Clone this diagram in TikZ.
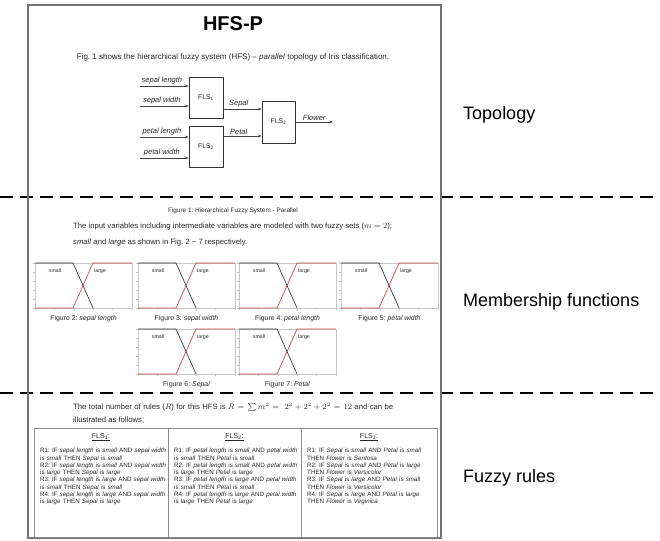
\documentclass[tikz,border=0pt]{standalone}
\usepackage{fontspec}
\setmainfont{Liberation Sans}
\usepackage{amsmath}
\usepackage{xcolor}
\usepackage{tikz}
\usetikzlibrary{positioning,arrows.meta}
\definecolor{mfred}{RGB}{204,72,72}
\definecolor{inkgray}{RGB}{40,40,40}
\newcommand{\fsz}[2]{\fontsize{#1}{#2}\selectfont}
\newcommand{\jline}[1]{\makebox[124pt][s]{#1}}
\frenchspacing

\begin{document}
\begin{tikzpicture}[
    x=1pt, y=-1pt,
    fls/.style = {
        rectangle,
        draw=black!80,
        line width=0.7pt,
        minimum width=34pt,
        minimum height=41pt,
        inner sep=0pt,
        font=\fsz{6.8}{8},
        text=inkgray
    },
    arrow/.style    = {-{Stealth[length=3.6pt,width=2.8pt]}, line width=0.6pt, draw=black!75},
    varlabel/.style = {above, inner sep=1.2pt, font=\fsz{7.5}{9}\itshape, text=inkgray},
    bodytext/.style = {font=\fsz{7.7}{16}, text=inkgray, inner sep=0pt},
    caption/.style  = {font=\fsz{6.9}{8}, text=inkgray, inner sep=0pt},
    mfframe/.style  = {draw=black!22, line width=0.5pt},
    mfsmall/.style  = {line width=0.7pt, draw=black!80},
    mflarge/.style  = {line width=0.7pt, draw=mfred},
    mflabel/.style  = {font=\fsz{5.2}{6}, inner sep=0pt, text=inkgray},
    rules/.style    = {anchor=north west, align=left, text width=130pt, inner sep=0pt, font=\fsz{6.25}{7.3}, text=inkgray},
    rulehead/.style = {font=\fsz{7}{8}, inner sep=0pt, text=inkgray},
    divider/.style  = {line width=2.5pt, dash pattern=on 13pt off 7pt},
    sectionlabel/.style = {anchor=west, inner sep=0pt, font=\fsz{18}{21}}
]

\useasboundingbox (0,0) rectangle (660,540);

\draw[divider] (0,197) -- (660,197);
\draw[divider] (0,393) -- (660,393);
\draw[draw=black!55, line width=1.4pt] (28,5) rectangle (441,538);

\node[font=\fsz{20}{22}\bfseries] (title) at (233,24) {HFS-P};
\node[bodytext, font=\fsz{8}{10}] (figtext) at (233,57)
    {Fig.~1 shows the hierarchical fuzzy system (HFS) -- \textit{parallel} topology of Iris classification.};

\node[fls] (fls1) at (206,97.5) {FLS\textsubscript{1}};
\node[fls] (fls2) at (206,146.5) {FLS\textsubscript{2}};
\node[fls, minimum width=33pt, minimum height=42pt] (fls3) at (278.5,122) {FLS\textsubscript{3}};

\coordinate (insl) at (140,86);
\coordinate (insw) at (140,106);
\coordinate (inpl) at (140,137);
\coordinate (inpw) at (140,158);
\coordinate (sepalout) at ([yshift=-11.5pt]fls1.east);
\coordinate (petalout) at ([yshift=10.5pt]fls2.east);
\coordinate (flowerend) at (333,122);

\draw[arrow] (insl) -- node[varlabel, pos=0.45] {sepal length} (insl -| fls1.west);
\draw[arrow] (insw) -- node[varlabel, pos=0.45] {sepal width} (insw -| fls1.west);
\draw[arrow] (inpl) -- node[varlabel, pos=0.45] {petal length} (inpl -| fls2.west);
\draw[arrow] (inpw) -- node[varlabel, pos=0.45] {petal width} (inpw -| fls2.west);
\draw[arrow] (sepalout) -- node[varlabel, pos=0.4] {Sepal} (sepalout -| fls3.west);
\draw[arrow] (petalout) -- node[varlabel, pos=0.4] {Petal} (petalout -| fls3.west);
\draw[arrow] (fls3.east) -- node[varlabel] {Flower} (flowerend);

\node[caption, font=\fsz{6.4}{7}] (figcap) at (233,211) {Figure 1: Hierarchical Fuzzy System - Parallel};
\node[bodytext, anchor=north west, align=left] (introtext) at (73,223)
    {The input variables including intermediate variables are modeled with two fuzzy sets ($m = 2$);\\
     \textit{small} and \textit{large} as shown in Fig.~2 \textasciitilde{} 7 respectively.};

\foreach \px/\py/\i/\cap in {35/263/2/{\textit{sepal length}}, 138/263/3/{\textit{sepal width}},
                             239/263/4/{\textit{petal length}}, 341/263/5/{\textit{petal width}},
                             138/329/6/{\textit{Sepal}}, 239/329/7/{\textit{Petal}}} {
    \draw[mfframe] (\px,\py) rectangle ++(97,45);
    \foreach \k in {0,...,5} {
        \draw[black!25, line width=0.4pt] (\px,\py+9*\k) -- ++(-2,0);
        \draw[black!25, line width=0.4pt] (\px+19.4*\k,\py+45) -- ++(0,2);
    }
    \draw[mflarge] (\px,\py+45) -- (\px+38,\py+45) -- (\px+58,\py) -- (\px+97,\py);
    \draw[mfsmall] (\px,\py) -- (\px+38,\py) -- (\px+58,\py+45);
    \node[mflabel] (small\i) at (\px+20,\py+8) {small};
    \node[mflabel] (large\i) at (\px+65,\py+8) {large};
    \node[caption] (cap\i) at (\px+48.5,\py+56) {Figure \i: \cap};
}

\node[bodytext, anchor=north west, align=left, font=\fsz{7.7}{13}] (rulestext) at (73,403)
    {\makebox[320pt][s]{The total number of rules ($R$) for this HFS is $R = \sum m^2 =\ 2^2 + 2^2 + 2^2 = 12$ and can be}\\
     illustrated as follows;};

\draw[draw=black!45, line width=0.6pt] (34,428) rectangle (437,537);
\draw[draw=black!45, line width=0.6pt] (168,428) -- (168,537);
\draw[draw=black!45, line width=0.6pt] (301,428) -- (301,537);

\node[rulehead] (head1) at (101,437) {\underline{FLS\textsubscript{1}:}};
\node[rulehead] (head2) at (234.5,437) {\underline{FLS\textsubscript{2}:}};
\node[rulehead] (head3) at (369,437) {\underline{FLS\textsubscript{3}:}};

\node[rules] (rules1) at (40,448) {
    R1: IF \textit{sepal length} is \textit{small} AND \textit{sepal width}\\
    is \textit{small} THEN \textit{Sepal} is \textit{small}\\
    R2: IF \textit{sepal length} is \textit{small} AND \textit{sepal width}\\
    is \textit{large} THEN \textit{Sepal} is \textit{large}\\
    R3: IF \textit{sepal length} is \textit{large} AND \textit{sepal width}\\
    is \textit{small} THEN \textit{Sepal} is \textit{small}\\
    R4: IF \textit{sepal length} is \textit{large} AND \textit{sepal width}\\
    is \textit{large} THEN \textit{Sepal} is \textit{large}
};

\node[rules] (rules2) at (174,448) {
    R1: IF \textit{petal length} is \textit{small} AND \textit{petal width}\\
    is \textit{small} THEN \textit{Petal} is \textit{small}\\
    R2: IF \textit{petal length} is \textit{small} AND \textit{petal width}\\
    is \textit{large} THEN \textit{Petal} is \textit{large}\\
    R3: IF \textit{petal length} is \textit{large} AND \textit{petal width}\\
    is \textit{small} THEN \textit{Petal} is \textit{small}\\
    R4: IF \textit{petal length} is \textit{large} AND \textit{petal width}\\
    is \textit{large} THEN \textit{Petal} is \textit{large}
};

\node[rules] (rules3) at (307,448) {
    \jline{R1: IF \textit{Sepal} is \textit{small} AND \textit{Petal} is \textit{small}}\\
    THEN \textit{Flower} is \textit{Sentosa}\\
    \jline{R2: IF \textit{Sepal} is \textit{small} AND \textit{Petal} is \textit{large}}\\
    THEN \textit{Flower} is \textit{Versicolor}\\
    \jline{R3: IF \textit{Sepal} is \textit{large} AND \textit{Petal} is \textit{small}}\\
    THEN \textit{Flower} is \textit{Versicolor}\\
    \jline{R4: IF \textit{Sepal} is \textit{large} AND \textit{Petal} is \textit{large}}\\
    THEN \textit{Flower} is \textit{Virginica}
};

\node[sectionlabel] (topology) at (463,115) {Topology};
\node[sectionlabel] (membership) at (463,302) {Membership functions};
\node[sectionlabel] (fuzzyrules) at (463,478) {Fuzzy rules};

\end{tikzpicture}
\end{document}
